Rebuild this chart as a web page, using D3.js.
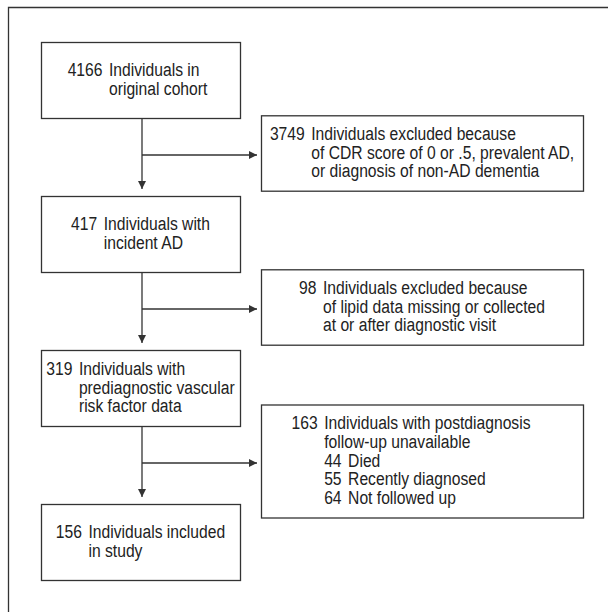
<!DOCTYPE html>
<html>
<head>
<meta charset="utf-8">
<script src="https://cdn.jsdelivr.net/npm/d3@7"></script>
<style>
  html, body { margin: 0; padding: 0; background: #fff; }
  svg { display: block; }
  text { font-family: "Liberation Sans", Arial, sans-serif; font-size: 17.6px; fill: #222; }
</style>
</head>
<body>
<script>
// flow counts and labels
const mainCounts = ["4166", "417", "319", "156"];
const mainLabels = [
  ["Individuals in", "original cohort"],
  ["Individuals with", "incident AD"],
  ["Individuals with", "prediagnostic vascular", "risk factor data"],
  ["Individuals included", "in study"]
];
const exclCounts = ["3749", "98", "163"];
const exclLabels = [
  ["Individuals excluded because", "of CDR score of 0 or .5, prevalent AD,", "or diagnosis of non-AD dementia"],
  ["Individuals excluded because", "of lipid data missing or collected", "at or after diagnostic visit"],
  ["Individuals with postdiagnosis", "follow-up unavailable"]
];
const subCounts = ["44", "55", "64"];
const subLabels = ["Died", "Recently diagnosed", "Not followed up"];

const width = 608, height = 612;
const lineH = 18.8, numGap = 6.5;
const narrow = 0.89; // condensed face look
const ink = "#333";

const svg = d3.select("body").append("svg")
  .attr("width", width)
  .attr("height", height);

svg.append("defs").append("marker")
  .attr("id", "head")
  .attr("viewBox", "0 0 10 10")
  .attr("refX", 10).attr("refY", 5)
  .attr("markerWidth", 9).attr("markerHeight", 8)
  .attr("markerUnits", "userSpaceOnUse")
  .attr("orient", "auto")
  .append("path")
  .attr("d", "M0,0L10,5L0,10Z")
  .attr("fill", ink);

// open frame: top and left edges only
svg.append("path")
  .attr("d", `M8.5,${height}V7.5H${width}`)
  .attr("fill", "none")
  .attr("stroke", ink)
  .attr("stroke-width", 1.3);

// layout scales
const yRow = d3.scaleLinear().domain([0, mainCounts.length - 1]).range([42, 504]);
const mainH = 76;
const xMain = [41, 240], xExcl = [261, 583];
const spineX = (xMain[0] + xMain[1]) / 2 + 1.5;
const exclNudge = [0, 0, -11]; // last box text sits a little left of centre

const mainBoxes = mainCounts.map((n, i) => ({
  num: n,
  lines: mainLabels[i].map(t => ({ text: t })),
  x0: xMain[0], x1: xMain[1],
  y0: yRow(i), y1: yRow(i) + mainH,
  nudge: i === 0 ? -3 : 0
}));

const exclBoxes = exclCounts.map((n, i) => {
  let lines = exclLabels[i].map(t => ({ text: t }));
  if (i === exclCounts.length - 1) {
    lines = lines.concat(subCounts.map((s, j) => ({ sub: s, text: subLabels[j] })));
  }
  const h = lines.length * lineH + 19;
  const mid = (yRow(i) + mainH + yRow(i + 1)) / 2 - 4;
  return { num: n, lines, x0: xExcl[0], x1: xExcl[1], y0: mid - h / 2, y1: mid + h / 2, arrowY: mid + 2, nudge: exclNudge[i] };
});

function label(g, y, str) {
  const t = g.append("text").text(str);
  const w = t.node().getComputedTextLength() * narrow;
  return { el: t, y, w, place(x) { t.attr("transform", `translate(${x},${y}) scale(${narrow},1)`); } };
}

function drawBox(b) {
  const g = svg.append("g");
  g.append("rect")
    .attr("x", b.x0 + 0.5).attr("y", b.y0 + 0.5)
    .attr("width", b.x1 - b.x0).attr("height", b.y1 - b.y0)
    .attr("fill", "#fff")
    .attr("stroke", ink)
    .attr("stroke-width", 1.3);

  const cy = (b.y0 + b.y1) / 2;
  const firstBase = cy - (b.lines.length - 1) * lineH / 2 + 5.5;

  const numT = label(g, firstBase, b.num);

  let maxW = 0;
  const items = b.lines.map((l, i) => {
    const y = firstBase + i * lineH;
    const parts = [];
    let w;
    if (l.sub) {
      const s = label(g, y, l.sub);
      const t = label(g, y, l.text);
      parts.push({ lab: s, dx: 0 }, { lab: t, dx: s.w + numGap });
      w = s.w + numGap + t.w;
    } else {
      const t = label(g, y, l.text);
      parts.push({ lab: t, dx: 0 });
      w = t.w;
    }
    maxW = Math.max(maxW, w);
    return parts;
  });

  const blockW = numT.w + numGap + maxW;
  const left = (b.x0 + b.x1) / 2 - blockW / 2 + b.nudge;
  numT.place(left);
  const textX = left + numT.w + numGap;
  items.forEach(parts => parts.forEach(p => p.lab.place(textX + p.dx)));
}

// connectors
const link = svg.append("g")
  .attr("fill", "none")
  .attr("stroke", ink)
  .attr("stroke-width", 1.3);

mainBoxes.slice(1).forEach((b, i) => {
  link.append("line")
    .attr("x1", spineX).attr("y1", mainBoxes[i].y1)
    .attr("x2", spineX).attr("y2", b.y0 - 7)
    .attr("marker-end", "url(#head)");
});

exclBoxes.forEach(b => {
  link.append("line")
    .attr("x1", spineX).attr("y1", b.arrowY)
    .attr("x2", b.x0 - 4).attr("y2", b.arrowY)
    .attr("marker-end", "url(#head)");
});

mainBoxes.forEach(drawBox);
exclBoxes.forEach(drawBox);
</script>
</body>
</html>
